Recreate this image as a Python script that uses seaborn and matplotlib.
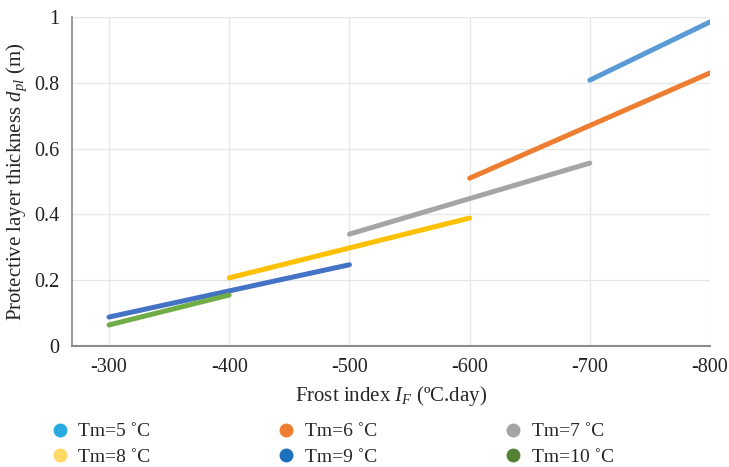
import matplotlib
matplotlib.use("Agg")
import matplotlib.pyplot as plt
from matplotlib.lines import Line2D
import seaborn as sns
import pandas as pd

# Data
series = ["Tm=5 ˚C", "Tm=6 ˚C", "Tm=7 ˚C", "Tm=8 ˚C", "Tm=9 ˚C", "Tm=10 ˚C"]
frost_start = [-700, -600, -500, -400, -300, -300]
frost_end = [-800, -800, -700, -600, -500, -400]
thick_start = [0.808, 0.51, 0.34, 0.207, 0.088, 0.064]
thick_end = [0.985, 0.83, 0.556, 0.389, 0.247, 0.155]
x_ticks = [-300, -400, -500, -600, -700, -800]
y_ticks = [0, 0.2, 0.4, 0.6, 0.8, 1]

line_colors = ["#5B9BD5", "#ED7D31", "#A5A5A5", "#FFC000", "#4472C4", "#70AD47"]
legend_colors = ["#29ABE2", "#ED7D31", "#A5A5A5", "#FFD966", "#1F6FBF", "#548235"]

rows = []
for s, x0, x1, y0, y1 in zip(series, frost_start, frost_end, thick_start, thick_end):
    rows.append({"series": s, "frost": x0, "thick": y0})
    rows.append({"series": s, "frost": x1, "thick": y1})
df = pd.DataFrame(rows)

sns.set_theme(style="white")
plt.rcParams["font.family"] = ["Liberation Serif", "DejaVu Serif"]
plt.rcParams["mathtext.fontset"] = "custom"
plt.rcParams["mathtext.rm"] = "Liberation Serif"
plt.rcParams["mathtext.it"] = "Liberation Serif:italic"

fig = plt.figure(figsize=(7.29, 4.67), dpi=100)
ax = fig.add_axes([72 / 729, 121 / 467, 638 / 729, 329 / 467])

sns.lineplot(data=df, x="frost", y="thick", hue="series", palette=line_colors,
             hue_order=series, linewidth=3.6, legend=False, ax=ax,
             solid_capstyle="round")

ax.set_xlim(-269.2, -800)
ax.set_ylim(0, 1)
ax.set_xticks(x_ticks)
ax.set_xticklabels([str(v) for v in x_ticks])
ax.set_yticks(y_ticks)
ax.set_yticklabels(["0", "0.2", "0.4", "0.6", "0.8", "1"])
ax.grid(True, color="#E6E6E6", linewidth=0.9)
ax.set_axisbelow(True)
for side in ["top", "right"]:
    ax.spines[side].set_visible(False)
ax.spines["left"].set_color("#8C8C8C")
ax.spines["bottom"].set_color("#8C8C8C")
ax.spines["bottom"].set_linewidth(1.5)
ax.tick_params(axis="both", labelsize=14.5, colors="#222222", length=0)
ax.tick_params(axis="x", pad=9)
ax.tick_params(axis="y", pad=9)
ax.set_xlabel("Frost index $\\mathit{I}_{\\mathit{F}}$ (ºC.day)", fontsize=15, labelpad=5)
ax.set_ylabel("Protective layer thickness $\\mathit{d}_{\\mathit{pl}}$ (m)", fontsize=15, labelpad=4)

order = [0, 3, 1, 4, 2, 5]
handles = [Line2D([0], [0], marker="o", linestyle="none", markersize=9,
                  markerfacecolor=legend_colors[i], markeredgecolor=legend_colors[i]) for i in order]
labels = [series[i] for i in order]
fig.legend(handles, labels, ncol=3, loc="upper left", bbox_to_anchor=(42 / 729, 1 - 415 / 467),
           frameon=False, fontsize=14, handletextpad=0.45, columnspacing=6.5,
           labelspacing=0.42, handlelength=1.0, borderaxespad=0)

fig.savefig("out.png", dpi=100)
